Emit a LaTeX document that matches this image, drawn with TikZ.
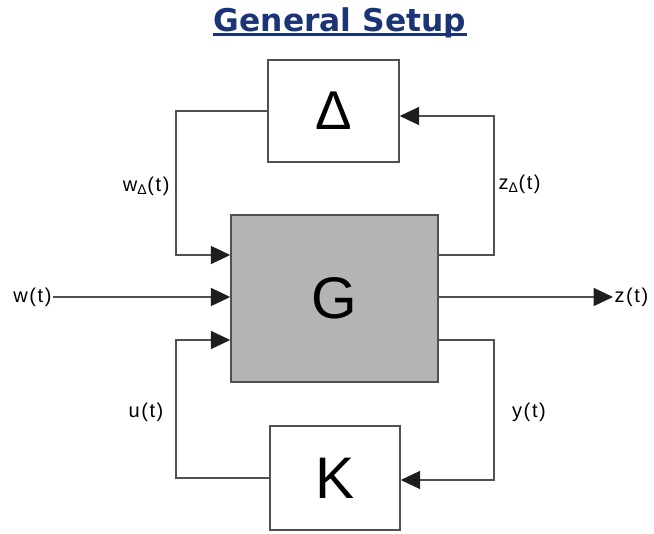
\documentclass[tikz,border=0pt]{standalone}
\usepackage{fontspec}
\setmainfont{Liberation Sans}
\newfontfamily\titlefont{DejaVu Sans}
\newfontfamily\lblfont[LetterSpace=8]{Liberation Sans}
\usetikzlibrary{arrows.meta}

\definecolor{titleblue}{RGB}{27,52,118}
\definecolor{plantgray}{RGB}{180,180,180}
\definecolor{wiregray}{RGB}{80,80,80}
\definecolor{tipgray}{RGB}{30,30,30}

\tikzset{every picture/.style={line width=0.75pt}}
\tikzset{
  blk/.style={draw=wiregray, line width=1.1pt, inner sep=0pt},
  sig/.style={draw=wiregray, line width=1.1pt, -{Triangle[length=14.5pt,width=13.5pt,color=tipgray]}},
  lbl/.style={inner sep=0.75pt, font=\lblfont\fontsize{15}{17}\selectfont}
}

\begin{document}
\begin{tikzpicture}[x=0.75pt,y=0.75pt,yscale=-1,xscale=1]
\path (0,0) rectangle (654,533); %set diagram to 654 x 533

% Title
\node (title) at (340,31) [anchor=base, inner sep=0pt, text=titleblue, font=\titlefont\bfseries\fontsize{23.5}{26}\selectfont] {General Setup};
\draw [titleblue, line width=1.6pt] ([yshift=2.6pt]title.base west) -- ([yshift=2.6pt]title.base east);

% Blocks
\node (dlt) at (333.5,111) [blk, minimum width=98.25pt, minimum height=76.5pt, font=\fontsize{41}{44}\selectfont] {Δ};
\node (plant) at (334.5,298.5) [blk, fill=plantgray, minimum width=155.25pt, minimum height=125.25pt, font=\fontsize{44}{48}\selectfont] {G};
\node (ctrl) at (335,478) [blk, minimum width=97.5pt, minimum height=78pt, font=\fontsize{44}{48}\selectfont] {K};

% Text Node
\node (wdlt) at (171,186) [lbl, anchor=east] {w\textsubscript{Δ}(t)};
\node (zdlt) at (497,184) [lbl, anchor=west] {z\textsubscript{Δ}(t)};
\node (uin) at (146,412) [lbl] {u(t)};
\node (yout) at (529,412) [lbl] {y(t)};
\node (win) at (53,297) [lbl, anchor=east] {w(t)};
\node (zout) at (613,297) [lbl, anchor=west] {z(t)};

% Connectors
\draw [sig] (dlt.west) -| (176,255) -- (plant.west |- 176,255);
\draw [sig] (win.east) -- (plant.west |- win.east);
\draw [sig] (ctrl.west) -| (176,340) -- (plant.west |- 176,340);
\draw [sig] (plant.east |- 494,255) -| (494,116) -- (dlt.east |- 494,116);
\draw [sig] (plant.east |- zout.west) -- (zout.west);
\draw [sig] (plant.east |- 494,340) -| (494,480) -- (ctrl.east |- 494,480);

\end{tikzpicture}
\end{document}
